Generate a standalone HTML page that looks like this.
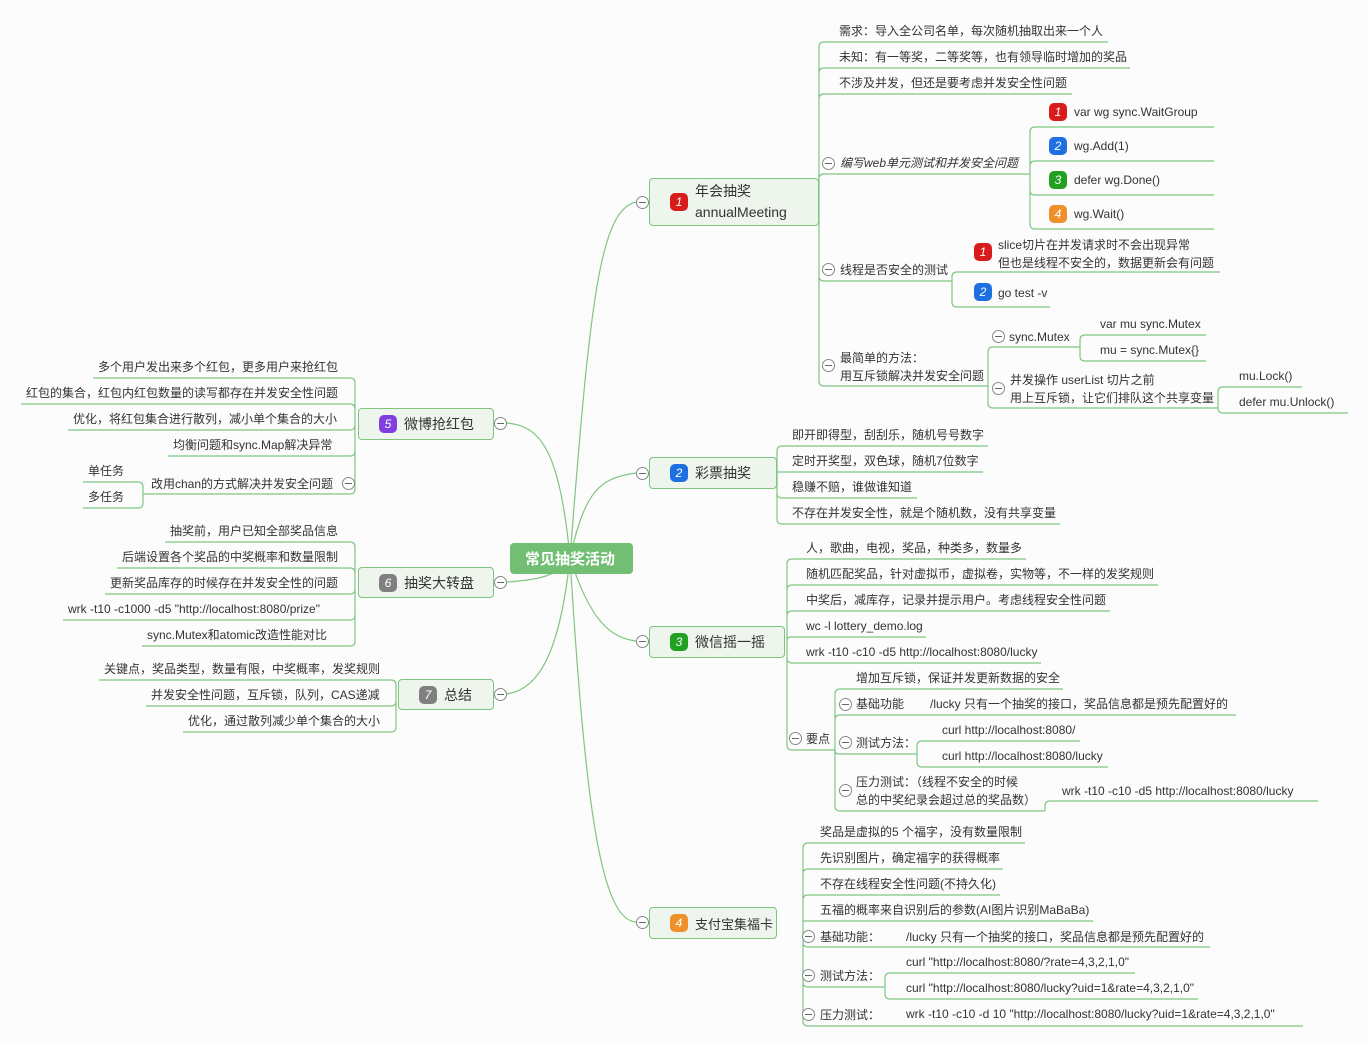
<!DOCTYPE html>
<html><head><meta charset="utf-8"><style>
body{margin:0;width:1369px;height:1046px;background:#fcfcfc;position:relative;overflow:hidden;font-family:"Liberation Sans","Noto Sans CJK SC",sans-serif;color:#333}
.t{position:absolute;font-size:12px;white-space:nowrap;line-height:18px;transform:translateY(-9px)}
.box{position:absolute;border:1px solid #7fc47f;border-radius:4px;background:#eef5ec;font-size:14px;box-sizing:border-box;display:flex;align-items:center;padding-left:20px;white-space:nowrap}
.ic{display:inline-block;width:18px;height:18px;border-radius:5px;color:#fff;font-size:12px;font-style:italic;text-align:center;line-height:18px;margin-right:7px;vertical-align:middle;flex:none}
.c{position:absolute;width:11px;height:11px;border:1px solid #888;border-radius:50%;background:#fff;transform:translate(-6px,-6px)}
.c:after{content:"";position:absolute;left:2px;right:2px;top:5px;height:1px;background:#666}
svg{position:absolute;left:0;top:0}
</style></head><body>
<svg id="s" width="1369" height="1046"></svg>
<div class="box" style="left:510px;top:543px;width:123px;height:31px;background:#72bf74;border-color:#72bf74;color:#fff;font-size:15px;padding-left:14px;font-weight:bold">常见抽奖活动</div>
<div class="box" style="left:649px;top:178px;width:170px;height:48px;line-height:21px"><span class="ic" style="background:#d81c1c">1</span><span>年会抽奖<br>annualMeeting</span></div>
<div class="box" style="left:649px;top:457px;width:128px;height:32px"><span class="ic" style="background:#1e6fe0">2</span>彩票抽奖</div>
<div class="box" style="left:649px;top:626px;width:136px;height:32px"><span class="ic" style="background:#22a022">3</span>微信摇一摇</div>
<div class="box" style="left:649px;top:907px;width:128px;height:32px;font-size:13px"><span class="ic" style="background:#f0902a">4</span>支付宝集福卡</div>
<div class="box" style="left:358px;top:408px;width:136px;height:32px"><span class="ic" style="background:#8040e0">5</span>微博抢红包</div>
<div class="box" style="left:358px;top:567px;width:136px;height:31px"><span class="ic" style="background:#808080">6</span>抽奖大转盘</div>
<div class="box" style="left:398px;top:679px;width:96px;height:31px"><span class="ic" style="background:#808080">7</span>总结</div>
<div id="d"></div>
<script>
var P='',H='';
function L(px,py,x2,uy){var d=x2>px?1:-1,r=Math.min(5,Math.abs(uy-py));if(Math.abs(uy-py)<1){P+='M'+px+' '+py+' L'+x2+' '+uy+' ';return;}
var s=uy>py?1:-1;P+='M'+px+' '+py+' L'+px+' '+(uy-s*r)+' Q'+px+' '+uy+' '+(px+d*r)+' '+uy+' L'+x2+' '+uy+' ';}
function T(x,y,t){H+='<div class="t" style="left:'+x+'px;top:'+y+'px">'+t+'</div>';}
function C(x,y){H+='<div class="c" style="left:'+x+'px;top:'+y+'px"></div>';}
function I(x,y,n,col){H+='<div class="ic" style="position:absolute;left:'+x+'px;top:'+(y-9)+'px;background:'+col+'">'+n+'</div>';}
function leaf(px,py,x,y,t,e){T(x,y,t);L(px,py,e,y+11);}
var R='M570 558 C590 300 600 210 636 202 M570 558 C585 490 600 478 636 473 M570 558 C590 620 610 638 636 641 M570 558 C585 800 600 920 636 922 M570 558 C560 450 540 425 506 423 M570 558 C560 575 540 580 506 582 M570 558 C560 650 540 690 506 694 ';
[[642,202],[642,473],[642,641],[642,922],[500,423],[500,582],[500,694]].forEach(function(a){C(a[0],a[1])});
var px=819,py=202;
leaf(px,py,839,31,'需求：导入全公司名单，每次随机抽取出来一个人',1108);
leaf(px,py,839,57,'未知：有一等奖，二等奖等，也有领导临时增加的奖品',1130);
leaf(px,py,839,83,'不涉及并发，但还是要考虑并发安全性问题',1072);
C(828,163);T(840,163,'<i>编写web单元测试和并发安全问题</i>');L(px,py,1030,174);
['var wg sync.WaitGroup','wg.Add(1)','defer wg.Done()','wg.Wait()'].forEach(function(t,i){var y=112+34*i;I(1049,y,i+1,['#d81c1c','#1e6fe0','#22a022','#f0902a'][i]);T(1074,y,t);L(1030,174,1214,y+15);});
C(828,269);T(840,270,'线程是否安全的测试');L(px,py,952,281);
I(974,252,1,'#d81c1c');T(998,245,'slice切片在并发请求时不会出现异常');T(998,263,'但也是线程不安全的，数据更新会有问题');L(952,281,1220,272);
I(974,292,2,'#1e6fe0');T(998,293,'go test -v');L(952,281,1050,307);
C(828,365);T(840,358,'最简单的方法：');T(840,376,'用互斥锁解决并发安全问题');L(px,py,988,386);
C(998,336);T(1009,337,'sync.Mutex');L(988,386,1080,347);
leaf(1080,347,1100,324,'var mu sync.Mutex',1206);leaf(1080,347,1100,350,'mu = sync.Mutex{}',1206);
C(998,388);T(1010,380,'并发操作 userList 切片之前');T(1010,398,'用上互斥锁，让它们排队这个共享变量');L(988,386,1218,408);
leaf(1218,408,1239,376,'mu.Lock()',1302);leaf(1218,408,1239,402,'defer mu.Unlock()',1348);
px=777;py=473;
leaf(px,py,792,435,'即开即得型，刮刮乐，随机号号数字',988);
leaf(px,py,792,461,'定时开奖型，双色球，随机7位数字',983);
leaf(px,py,792,487,'稳赚不赔，谁做谁知道',917);
leaf(px,py,792,513,'不存在并发安全性，就是个随机数，没有共享变量',1060);
px=787;py=641;
leaf(px,py,806,548,'人，歌曲，电视，奖品，种类多，数量多',1026);
leaf(px,py,806,574,'随机匹配奖品，针对虚拟币，虚拟卷，实物等，不一样的发奖规则',1158);
leaf(px,py,806,600,'中奖后，减库存，记录并提示用户。考虑线程安全性问题',1110);
leaf(px,py,806,626,'wc -l lottery_demo.log',926);
leaf(px,py,806,652,'wrk -t10 -c10 -d5 http://localhost:8080/lucky',1041);
C(795,738);T(806,739,'要点');L(px,py,835,750);
var qx=835,qy=750;
leaf(qx,qy,856,678,'增加互斥锁，保证并发更新数据的安全',1063);
C(845,704);T(856,704,'基础功能');L(qx,qy,925,715);T(930,704,'/lucky 只有一个抽奖的接口，奖品信息都是预先配置好的');L(925,715,1236,715);
C(845,742);T(856,743,'测试方法：');L(qx,qy,917,754);
leaf(917,754,942,730,'curl http://localhost:8080/',1080);leaf(917,754,942,756,'curl http://localhost:8080/lucky',1108);
C(845,790);T(856,782,'压力测试：（线程不安全的时候');T(856,800,'总的中奖纪录会超过总的奖品数）');L(qx,qy,1045,811);
L(1045,811,1060,801);P+='M1060 801 L1318 801 ';T(1062,791,'wrk -t10 -c10 -d5 http://localhost:8080/lucky');
px=803;py=922;
leaf(px,py,820,832,'奖品是虚拟的5 个福字，没有数量限制',1025);
leaf(px,py,820,858,'先识别图片，确定福字的获得概率',1003);
leaf(px,py,820,884,'不存在线程安全性问题(不持久化)',1000);
leaf(px,py,820,910,'五福的概率来自识别后的参数(AI图片识别MaBaBa)',1093);
C(808,936);T(820,937,'基础功能：');L(px,py,890,947);T(906,937,'/lucky 只有一个抽奖的接口，奖品信息都是预先配置好的');L(890,947,1210,947);
C(808,975);T(820,976,'测试方法：');L(px,py,885,987);
leaf(885,987,906,962,'curl "http://localhost:8080/?rate=4,3,2,1,0"',1135);
leaf(885,987,906,988,'curl "http://localhost:8080/lucky?uid=1&amp;rate=4,3,2,1,0"',1198);
C(808,1014);T(820,1015,'压力测试：');L(px,py,890,1026);T(906,1014,'wrk -t10 -c10 -d 10 "http://localhost:8080/lucky?uid=1&amp;rate=4,3,2,1,0"');L(890,1026,1303,1026);
px=355;py=423;
leaf(px,py,98,367,'多个用户发出来多个红包，更多用户来抢红包',93);
leaf(px,py,26,393,'红包的集合，红包内红包数量的读写都存在并发安全性问题',21);
leaf(px,py,73,419,'优化，将红包集合进行散列，减小单个集合的大小',68);
leaf(px,py,173,445,'均衡问题和sync.Map解决异常',168);
C(348,483);T(151,484,'改用chan的方式解决并发安全问题');L(px,py,143,494);
leaf(143,494,88,471,'单任务',83);leaf(143,494,88,497,'多任务',83);
px=355;py=582;
leaf(px,py,170,531,'抽奖前，用户已知全部奖品信息',165);
leaf(px,py,122,557,'后端设置各个奖品的中奖概率和数量限制',117);
leaf(px,py,110,583,'更新奖品库存的时候存在并发安全性的问题',105);
leaf(px,py,68,609,'wrk -t10 -c1000 -d5 "http://localhost:8080/prize"',63);
leaf(px,py,147,635,'sync.Mutex和atomic改造性能对比',142);
px=396;py=694;
leaf(px,py,104,669,'关键点，奖品类型，数量有限，中奖概率，发奖规则',99);
leaf(px,py,151,695,'并发安全性问题，互斥锁，队列，CAS递减',146);
leaf(px,py,188,721,'优化，通过散列减少单个集合的大小',183);
document.getElementById('s').innerHTML='<path d="'+R+P+'" fill="none" stroke="#80c682" stroke-width="1.2"/>';
document.getElementById('d').innerHTML=H;
</script>
</body></html>
